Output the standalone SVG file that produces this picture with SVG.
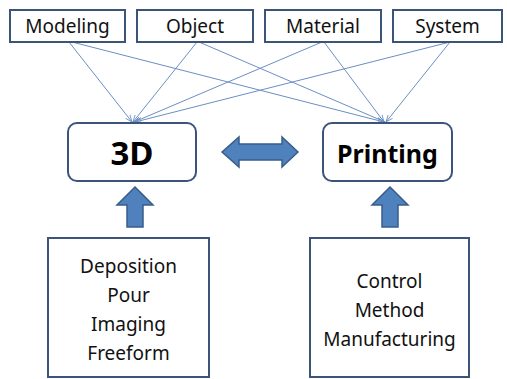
<svg xmlns="http://www.w3.org/2000/svg" width="507" height="379" viewBox="0 0 507 379">
<style>
.box{fill:#fff;stroke:#3d5479;stroke-width:2}
.lbl{font-family:"Noto Sans","Liberation Sans",sans-serif;font-size:19px;fill:#111;text-anchor:middle}
.sub{font-family:"Noto Sans","Liberation Sans",sans-serif;font-size:19px;fill:#111;text-anchor:middle}
.big{font-family:"Noto Sans","Liberation Sans",sans-serif;font-weight:bold;fill:#000;text-anchor:middle}
.ln{stroke:#6b8ec4;stroke-width:1;fill:none;marker-end:url(#ah)}
.arr{fill:#4f81bd;stroke:#385d8a;stroke-width:1.5}
</style>
<defs>
<marker id="ah" viewBox="0 0 10 10" refX="10" refY="5" markerWidth="7" markerHeight="7" orient="auto" markerUnits="userSpaceOnUse">
<path d="M0,1 L10,5 L0,9" fill="none" stroke="#6b8ec4" stroke-width="1.2"/>
</marker>
</defs>
<rect width="507" height="379" fill="#fff"/>
<g id="connectors">
<line class="ln" x1="69" y1="42" x2="132" y2="122"/>
<line class="ln" x1="72" y1="42" x2="384" y2="122"/>
<line class="ln" x1="197" y1="42" x2="133" y2="122"/>
<line class="ln" x1="199" y1="42" x2="385" y2="122"/>
<line class="ln" x1="322" y1="42" x2="134" y2="122"/>
<line class="ln" x1="324" y1="42" x2="384" y2="122"/>
<line class="ln" x1="450" y1="42" x2="135" y2="122"/>
<line class="ln" x1="450" y1="42" x2="386" y2="122"/>
</g>
<g id="modeling"><rect class="box" x="10" y="10" width="115" height="32"/><text class="lbl" x="67.5" y="33">Modeling</text></g>
<g id="object"><rect class="box" x="137" y="10" width="116" height="32"/><text class="lbl" x="195" y="33">Object</text></g>
<g id="material"><rect class="box" x="265" y="10" width="116" height="32"/><text class="lbl" x="323" y="33">Material</text></g>
<g id="system"><rect class="box" x="393" y="10" width="109" height="32"/><text class="lbl" x="447.5" y="33">System</text></g>
<g id="n3d"><rect class="box" x="68" y="123" width="128" height="58" rx="9"/><text class="big" x="132" y="165" font-size="33">3D</text></g>
<g id="printing"><rect class="box" x="323" y="123" width="129" height="58" rx="9"/><text class="big" x="387.5" y="163" font-size="25">Printing</text></g>
<g id="double-arrow"><path class="arr" d="M222,152 L239,137 L239,144 L282,144 L282,137 L298,152 L282,167 L282,160 L239,160 L239,167 Z"/></g>
<g id="up-left"><path class="arr" d="M135,187 L153,205 L143,205 L143,227 L127,227 L127,205 L117,205 Z"/></g>
<g id="up-right"><path class="arr" d="M390,187 L408,205 L398,205 L398,227 L382,227 L382,205 L372,205 Z"/></g>
<g id="left-box"><rect class="box" x="48" y="238" width="161" height="139"/>
<text class="sub" x="128.5" y="273">Deposition</text>
<text class="sub" x="128.5" y="302">Pour</text>
<text class="sub" x="128.5" y="331">Imaging</text>
<text class="sub" x="128.5" y="360">Freeform</text></g>
<g id="right-box"><rect class="box" x="310" y="238" width="159" height="139"/>
<text class="sub" x="389.5" y="288">Control</text>
<text class="sub" x="389.5" y="317">Method</text>
<text class="sub" x="389.5" y="346">Manufacturing</text></g>
</svg>
